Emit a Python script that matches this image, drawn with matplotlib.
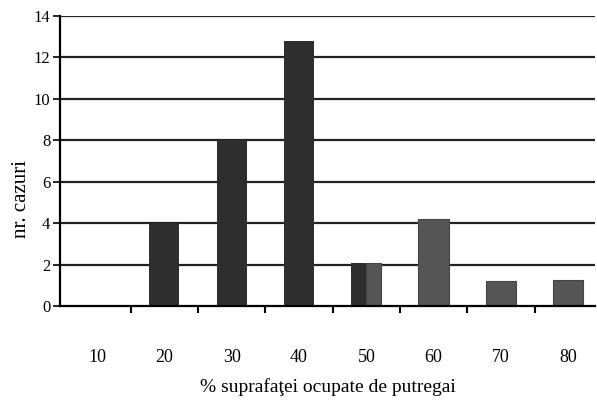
import numpy as np
import matplotlib.pyplot as plt

plt.rcParams['font.family'] = ['Liberation Serif', 'DejaVu Serif']

categories = ['10', '20', '30', '40', '50', '60', '70', '80']
dark_vals = [0, 4, 8, 12.8, 2.1, 0, 0, 0]
gray_vals = [0, 0, 0, 0, 2.1, 4.2, 1.2, 1.25]
y_ticks = [0, 2, 4, 6, 8, 10, 12, 14]


def main():
    fig = plt.figure(figsize=(5.97, 4.03), dpi=100)
    ax = fig.add_axes([60 / 597, 1 - 306 / 403, 1 - 60 / 597 - 0.003, (306 - 16) / 403])

    x = np.arange(len(categories))
    w = 0.45
    # gridlines behind the bars
    for t in y_ticks[1:]:
        ax.axhline(t, color='#222222', lw=1.6, zorder=1)

    for i in x:
        d, g = dark_vals[i], gray_vals[i]
        if d > 0 and g > 0:
            # split bar: half dark, half gray
            ax.bar(i - w / 4, d, w / 2, color='#2e2e2e', zorder=2)
            ax.bar(i + w / 4, g, w / 2, color='#555555', edgecolor='#444444', lw=0.8, zorder=2)
        elif d > 0:
            ax.bar(i, d, w, color='#2e2e2e', zorder=2)
        elif g > 0:
            ax.bar(i, g, w, color='#555555', edgecolor='#444444', lw=0.8, zorder=2)

    ax.set_xlim(-0.55, 7.4)
    ax.set_ylim(0, 14)
    ax.set_yticks(y_ticks)
    ax.set_yticklabels([str(t) for t in y_ticks], fontsize=12)
    ax.set_xticks(x)
    ax.set_xticklabels(categories, fontsize=13)
    ax.tick_params(axis='x', length=0, pad=31)
    ax.set_xticks(x[:-1] + 0.5, minor=True)
    ax.tick_params(axis='x', which='minor', length=5, width=1.5, direction='out')
    ax.tick_params(axis='y', length=5, width=1.2, direction='out', pad=2)

    for s in ['top', 'right']:
        ax.spines[s].set_visible(False)
    ax.spines['left'].set_linewidth(1.6)
    ax.spines['bottom'].set_linewidth(1.6)

    ax.set_ylabel('nr. cazuri', fontsize=15)
    ax.yaxis.set_label_coords(-0.055, 0.37)
    ax.set_xlabel('% suprafaţei ocupate de putregai', fontsize=14, labelpad=9)

    plt.savefig('out.png', dpi=100)


if __name__ == '__main__':
    main()
